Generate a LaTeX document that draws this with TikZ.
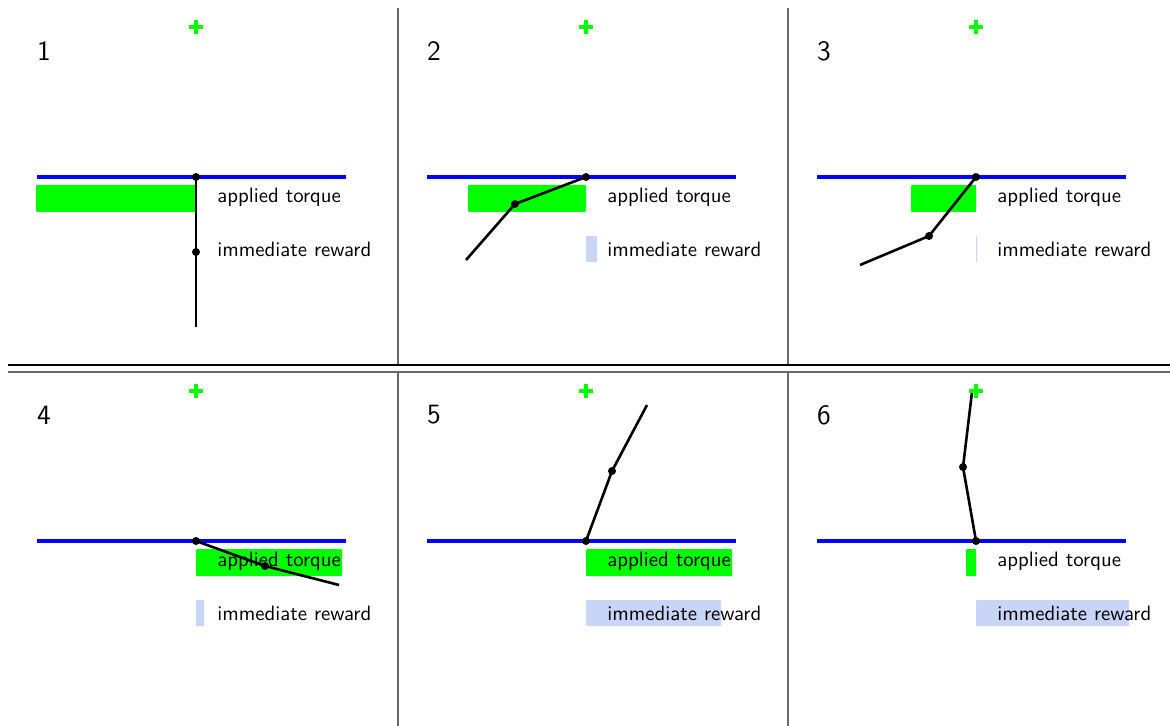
\documentclass[tikz,border=0pt]{standalone}
\usetikzlibrary{positioning}
\usepackage{xcolor}
\definecolor{torquegreen}{RGB}{0,255,0}
\definecolor{railblue}{RGB}{0,0,255}
\definecolor{rewardblue}{RGB}{200,212,248}
\definecolor{framegray}{RGB}{105,105,105}

% #1 prefix, #2 shift, #3 number, #4 torque, #5 reward, #6 joint, #7 tip
\newcommand{\pendpanel}[7]{%
  \begin{scope}[shift={#2}]
    \node[panelno] (#1no) at (44,51) {#3};
    \coordinate (#1goal) at (196,27);
    \coordinate (#1pivot) at (196,177);
    \coordinate (#1joint) at #6;
    \coordinate (#1tip) at #7;
    \draw[rail] (37,177) -- (346,177);
    \fill[torquebar] (196,185) rectangle ++(#4,27);
    \fill[rewardbar] (196,236) rectangle ++(#5,26);
    \node[legend] (#1torque) at (217,197) {applied torque};
    \node[legend] (#1reward) at (217,249) {immediate reward};
    \draw[link] (#1pivot) -- (#1joint) -- (#1tip);
    \fill (#1pivot) circle (2pt);
    \fill (#1joint) circle (2pt);
    \draw[goalplus] ([xshift=-3.5pt]#1goal) -- ([xshift=3.5pt]#1goal)
      ([yshift=-3.5pt]#1goal) -- ([yshift=3.5pt]#1goal);
  \end{scope}}

\begin{document}
\begin{tikzpicture}[
    x=0.5pt, y=-0.5pt,
    panelno/.style={font=\sffamily\fontsize{14}{16}\selectfont, inner sep=0pt},
    legend/.style={anchor=west, inner sep=0pt, font=\sffamily\fontsize{10.4}{12}\selectfont},
    rail/.style={railblue, line width=1.6pt},
    link/.style={black, line width=1.3pt},
    torquebar/.style={torquegreen, rounded corners=0.5pt},
    rewardbar/.style={rewardblue, rounded corners=0.5pt},
    goalplus/.style={torquegreen, line width=2.2pt},
    divider/.style={framegray, line width=0.6pt}
  ]
  \useasboundingbox (0,0) rectangle (1170,726);

  \pendpanel{a}{(0,0)}{1}{-160}{1}{(196,252)}{(196,327)}
  \pendpanel{b}{(390,0)}{2}{-118}{11}{(125,204)}{(76,260)}
  \pendpanel{c}{(780,0)}{3}{-65}{1}{(149,236)}{(80,265)}
  \pendpanel{d}{(0,364)}{4}{146}{8}{(265,202)}{(339,221)}
  \pendpanel{e}{(390,364)}{5}{146}{135}{(222,107)}{(257,41)}
  \pendpanel{f}{(780,364)}{6}{-10}{153}{(183,103)}{(192,28)}

  \draw[divider] (398,8) -- (398,365) (788,8) -- (788,365);
  \draw[divider] (398,372) -- (398,726) (788,372) -- (788,726);
  \draw[black, line width=0.6pt] (8,365) -- (1170,365);
  \draw[divider, line width=0.8pt] (8,372) -- (1170,372);
\end{tikzpicture}
\end{document}
